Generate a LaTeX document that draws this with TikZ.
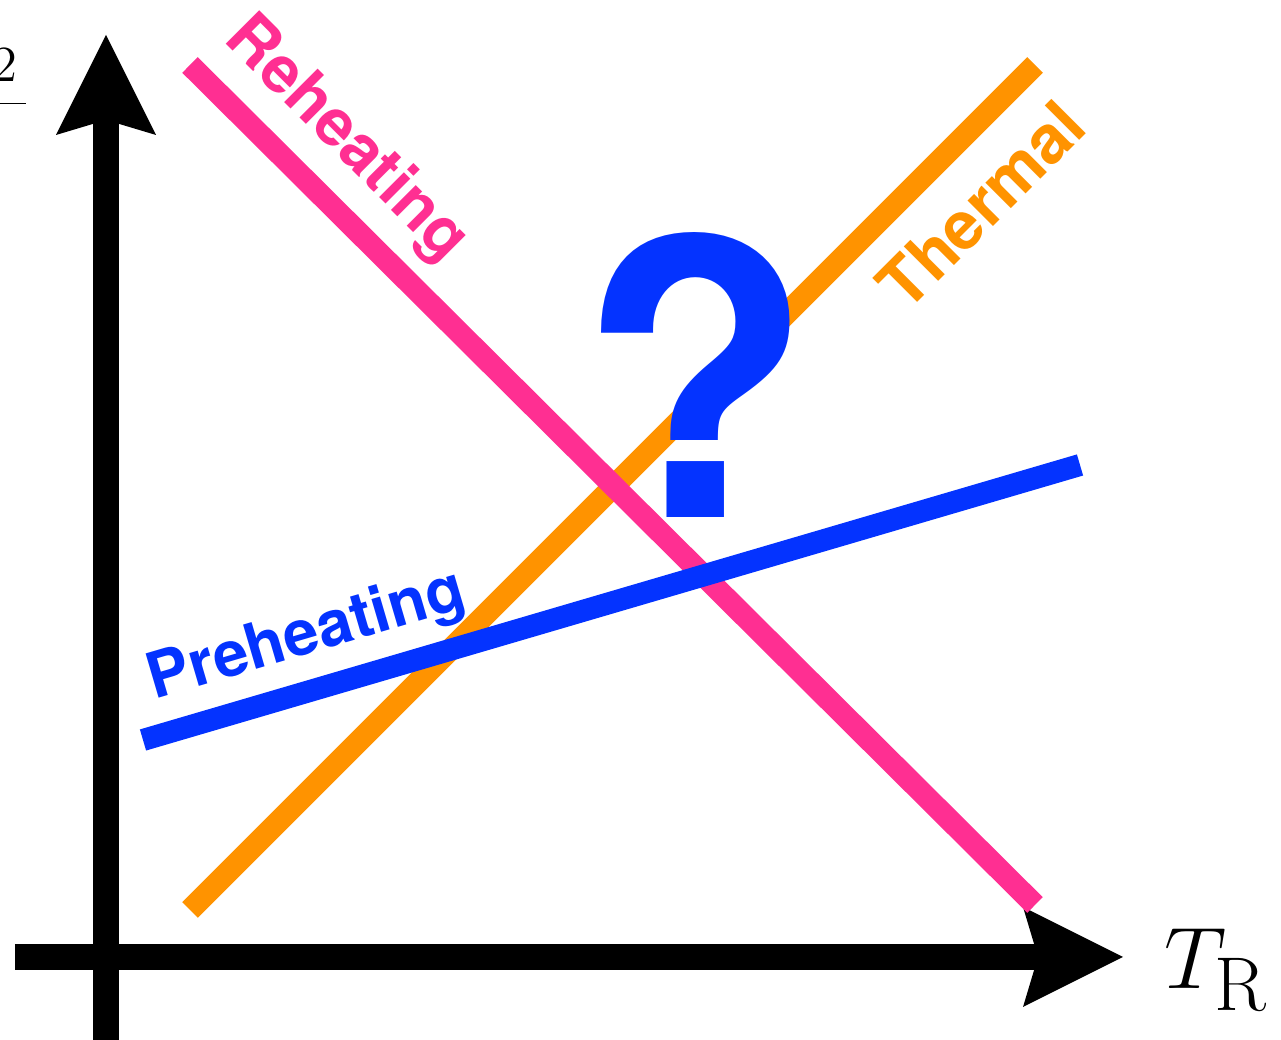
\documentclass[tikz,border=0pt]{standalone}
\usepackage{fontspec}
\usetikzlibrary{arrows.meta}
\usetikzlibrary{math}
\newfontfamily\labelfont{TeX Gyre Heros}
\definecolor{reheatpink}{RGB}{255,47,146}
\definecolor{thermalorange}{RGB}{255,147,0}
\definecolor{preheatblue}{RGB}{4,51,255}

\begin{document}
\begin{tikzpicture}[scale=1]
\tikzmath{
\W=12.81;
\H=10.40;
\lw=0.22;
}
\useasboundingbox (0,0) rectangle (\W,\H);
\clip (0,0) rectangle (\W,\H);
%axis
\draw[-{Stealth[length=1cm, width=1cm, inset=0.15cm, line width=0pt]}, line width=0.26cm] (1.06,-0.1) -- (1.06,10.05);
\draw[-{Stealth[length=1cm, width=1cm, inset=0.15cm, line width=0pt]}, line width=0.26cm] (0.15,0.83) -- (11.23,0.83);
\node[anchor=west, inner sep=0pt] (xlabel) at (11.64,0.70) {\fontsize{31}{36}\selectfont$T_{\mathrm{R}}$};
\node[anchor=base east, inner sep=0pt] (ylabel) at (0.31,9.24) {\fontsize{15}{18}\selectfont$\displaystyle\frac{2\,}{}$};
%lines
\draw[thermalorange, line width=\lw cm] (1.90,1.30) -- (10.35,9.75);
\draw[reheatpink, line width=\lw cm] (1.90,9.75) -- (10.35,1.35);
\draw[preheatblue, line width=\lw cm] (1.43,3.00) -- (10.80,5.75);
%question mark
\node[preheatblue] (qmark) at (6.96,6.65) {\labelfont\bfseries\fontsize{109}{120}\selectfont ?};
%labels
\node[reheatpink, rotate=-45] (reheat) at (3.46,9.00) {\labelfont\bfseries\fontsize{18.5}{22}\selectfont Reheating};
\node[thermalorange, rotate=45] (thermal) at (9.81,8.35) {\labelfont\bfseries\fontsize{19}{23}\selectfont Thermal};
\node[preheatblue, rotate=16.4] (preheat) at (3.07,4.03) {\labelfont\bfseries\fontsize{18}{22}\selectfont Preheating};
\end{tikzpicture}
\end{document}
